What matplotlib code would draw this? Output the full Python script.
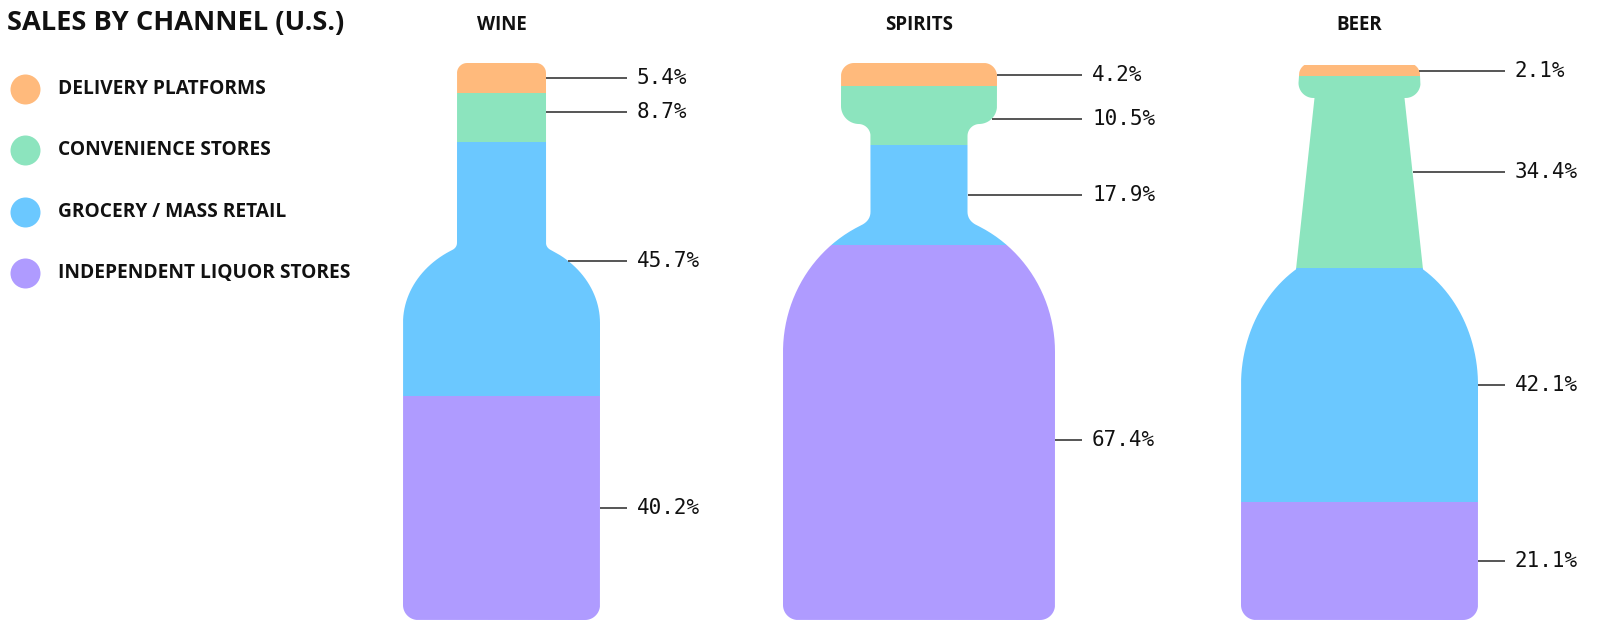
import numpy as np
import matplotlib.pyplot as plt
from matplotlib.path import Path
from matplotlib.patches import PathPatch

# --------------------------
# Data
# --------------------------
channels = ["DELIVERY PLATFORMS", "CONVENIENCE STORES",
            "GROCERY / MASS RETAIL", "INDEPENDENT LIQUOR STORES"]
colors = ["#FFBA7C", "#8CE4BE", "#6BC8FF", "#AF9BFF"]

drinks = ["WINE", "SPIRITS", "BEER"]
wine = [5.4, 8.7, 45.7, 40.2]
spirits = [4.2, 10.5, 17.9, 67.4]
beer = [2.1, 34.4, 42.1, 21.1]
shares = [wine, spirits, beer]

title = "SALES BY CHANNEL (U.S.)"

# small hand nudges for a few labels (pixels, + = up)
label_nudge = {("WINE", 1): 5, ("WINE", 2): 8,
               ("SPIRITS", 1): -3, ("SPIRITS", 3): -8}

# --------------------------
# Bottle outlines (right half, pixels, y up from bottom)
# --------------------------
H = 557.0


def arc(cx, cy, r, a0, a1, n=16):
    t = np.radians(np.linspace(a0, a1, n))
    return np.column_stack([cx + r * np.cos(t), cy + r * np.sin(t)])


def shoulder(cy, a, b, x0, n=50):
    t = np.linspace(np.arccos(x0 / a), 0, n)
    return np.column_stack([a * np.cos(t), cy + b * np.sin(t)])


def fillet(neck_x, cy, a, b, x0, length, n=10):
    # concave joint from a vertical neck into the shoulder ellipse
    t0 = np.arccos(x0 / a)
    p2 = np.array([x0, cy + b * np.sin(t0)])
    d = np.array([a * np.sin(t0), -b * np.cos(t0)])
    p1 = p2 - d * (x0 - neck_x) / d[0]
    p0 = p1 + [0, length]
    t = np.linspace(0, 1, n)[:, None]
    return (1 - t) ** 2 * p0 + 2 * (1 - t) * t * p1 + t ** 2 * p2


def base(half, r=15):
    return np.vstack([[[half, r]], arc(half - r, r, r, 0, -90), [[0, 0]]])


wine_half = np.vstack([
    [[0, H]], arc(34.5, H - 10, 10, 90, 0),
    fillet(44.5, 297, 98.5, 84.3, 49.5, 5),
    shoulder(297, 98.5, 84.3, 49.5),
    base(98.5),
])

spirits_half = np.vstack([
    [[0, H]], arc(65, H - 13, 13, 90, 0),
    arc(60, 514, 18, 0, -90),
    arc(48.5 + 12, 496 - 12, 12, 90, 180),
    fillet(48.5, 268, 136, 140, 58, 9),
    shoulder(268, 136, 140, 58),
    base(136),
])

beer_half = np.vstack([
    [[0, H]], arc(48.5, H - 12, 12, 90, 0),
    arc(46, 537, 15, 0, -90),
    [[45, 522]],
    shoulder(235, 118.5, 137, 63.5),
    base(118.5),
])

halves = [wine_half, spirits_half, beer_half]
body_half = [98.5, 136, 118.5]
centers = [501.5, 919, 1359.5]


def outline(half):
    left = half[::-1] * [-1, 1]
    return np.vstack([half, left[1:]]) * [1, 100 / H]


def edge_x(half, y):
    xs = []
    for (x1, y1), (x2, y2) in zip(half[:-1], half[1:]):
        if min(y1, y2) <= y <= max(y1, y2) and y1 != y2:
            xs.append(x1 + (y - y1) * (x2 - x1) / (y2 - y1))
    return max(xs)


# --------------------------
# Plot
# --------------------------
fig = plt.figure(figsize=(16, 6.3), dpi=100)
W, FH = 1600, 630

for name, vals, half, bh, cx in zip(drinks, shares, halves, body_half, centers):
    ax = fig.add_axes([(cx - 170) / W, 10 / FH, 420 / W, H / FH])
    ax.set_xlim(-170, 250)
    ax.set_ylim(0, 100)
    ax.axis('off')

    shape = PathPatch(Path(outline(half)), facecolor='none',
                      edgecolor='none', transform=ax.transData)
    ax.add_patch(shape)

    bottom = 0
    n = len(vals)
    for j, (v, c) in enumerate(zip(vals[::-1], colors[::-1])):
        bar = ax.bar(0, v, bottom=bottom, width=2 * bh + 10, color=c,
                     linewidth=0)
        for b in bar:
            b.set_clip_path(shape)
        mid = bottom + v / 2 + label_nudge.get((name, n - 1 - j), 0) * 100 / H
        x0 = edge_x(half, mid * H / 100)
        ax.plot([x0, bh + 27], [mid, mid], color='#555555', lw=1.4,
                solid_capstyle='butt', clip_on=False)
        ax.text(bh + 37, mid, f"{v:.1f}%", fontsize=15,
                family='DejaVu Sans Mono', va='center', ha='left',
                color='#111111', clip_on=False)
        bottom += v

    ax.text(0, 100 + 37.5 * 100 / H, name, fontsize=13.5, fontweight='bold',
            family='Open Sans', ha='center', va='center', color='#111111',
            clip_on=False)

# title and legend
fig.text(7 / W, 1 - 23 / FH, title, fontsize=19.6, fontweight='bold',
         family='Open Sans', ha='left', va='center', color='#111111')

lax = fig.add_axes([0, 0, 360 / W, 1])
lax.set_xlim(0, 360)
lax.set_ylim(FH, 0)
lax.axis('off')
for i, (ch, c) in enumerate(zip(channels, colors)):
    y = 89 + i * 61.3
    lax.scatter([25], [y], s=30 ** 2 * 0.5184, color=c, linewidths=0)
    lax.text(58, y, ch, fontsize=13.8, fontweight='bold', family='Open Sans',
             ha='left', va='center', color='#111111')

fig.savefig("out.png", dpi=100, facecolor='white')
